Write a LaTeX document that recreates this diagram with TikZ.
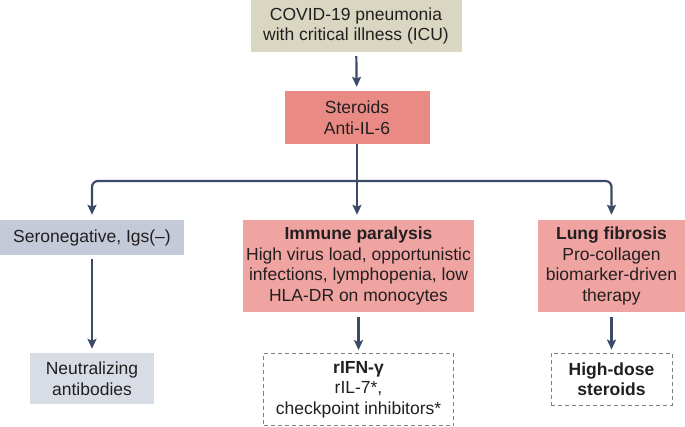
\documentclass[tikz,border=0pt]{standalone}
\usepackage{fontspec}
\setmainfont{Liberation Sans}
\usepackage{xcolor}
\usetikzlibrary{arrows.meta}
\definecolor{icubox}{HTML}{D9D7C1}
\definecolor{sterbox}{HTML}{E98B84}
\definecolor{redbox}{HTML}{F0A4A2}
\definecolor{serobox}{HTML}{C4CAD8}
\definecolor{neutbox}{HTML}{D8DCE5}
\definecolor{linkcol}{HTML}{3B4A66}
\definecolor{txtcol}{HTML}{231F20}
\newcommand{\boxfont}{\fontsize{17.5}{20.5}\selectfont}

\begin{document}
\begin{tikzpicture}[x=1pt,y=1pt]
                \useasboundingbox (0,0) rectangle (685,-427);
                \begin{scope}[every node/.style={rectangle,inner sep=0pt,align=center,text=txtcol,font=\boxfont}]
                    \node[fill=icubox,minimum width=211,minimum height=52] (icu) at (356,-26) {COVID-19 pneumonia\\with critical illness (ICU)};
                    \node[fill=sterbox,minimum width=145,minimum height=53] (ster) at (357,-117.5) {Steroids\\Anti-IL-6};
                    \node[fill=serobox,minimum width=184,minimum height=35] (sero) at (92,-237.5) {Seronegative, Igs(--)};
                    \node[fill=redbox,minimum width=231,minimum height=92] (immune) at (358.5,-266) {\textbf{Immune paralysis}\\High virus load, opportunistic\\infections, lymphopenia, low\\HLA-DR on monocytes};
                    \node[fill=redbox,minimum width=147,minimum height=92] (lung) at (611.5,-266) {\textbf{Lung fibrosis}\\Pro-collagen\\biomarker-driven\\therapy};
                    \node[fill=neutbox,minimum width=124,minimum height=51] (neut) at (92,-378.5) {Neutralizing\\antibodies};
                    \node[draw=gray,dashed,dash pattern=on 4pt off 3pt,line width=0.8pt,minimum width=190,minimum height=72] (rifn) at (358.5,-389.5) {\textbf{rIFN-γ}\\rIL-7*,\\checkpoint inhibitors*};
                    \node[draw=gray,dashed,dash pattern=on 4pt off 3pt,line width=0.8pt,minimum width=121,minimum height=52] (hidose) at (611.5,-379) {\textbf{High-dose}\\\textbf{steroids}};
                \end{scope}

                \coordinate (split) at (357,-181);

                \begin{scope}[>={Stealth[length=10pt,width=9pt,inset=2pt]},
                    every edge/.style={draw=linkcol,line width=2.2pt}]
                    \path [->,shorten <=4pt,shorten >=4pt] (icu) edge (ster);
                    \draw [draw=linkcol,line width=2.2pt] (ster.south) -- (split);
                    \draw [->,draw=linkcol,line width=2.2pt,rounded corners=6pt,shorten >=5pt] (split) -| (sero.north);
                    \draw [->,draw=linkcol,line width=2.2pt,rounded corners=6pt,shorten >=5pt] (split) -| (lung.north);
                    \path [->,shorten >=5pt] (split) edge (split |- immune.north);

                    \path [->,shorten <=4pt,shorten >=4pt] (sero) edge (neut);
                    \path [->,shorten <=5pt,shorten >=3pt] (immune.south) edge (immune.south |- rifn.north);
                    \path [->,shorten <=5pt,shorten >=3pt] (lung) edge (hidose);
                \end{scope}
            \end{tikzpicture}
\end{document}
